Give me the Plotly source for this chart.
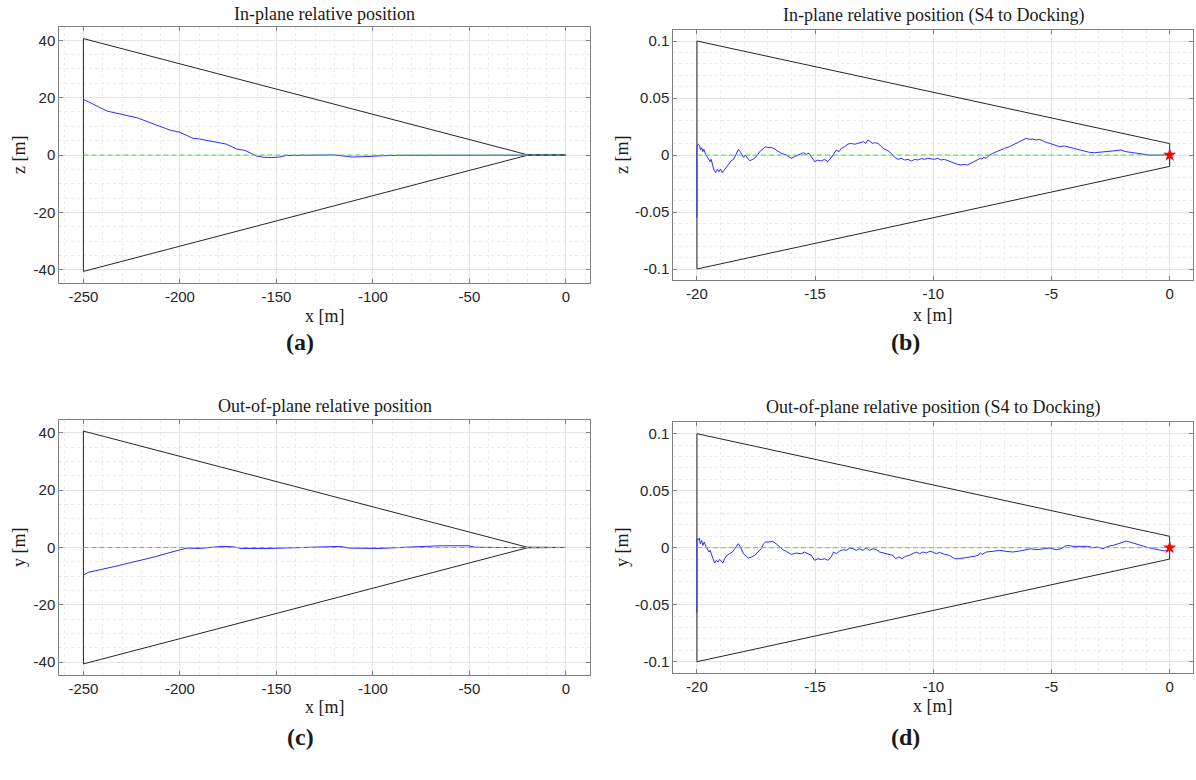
import plotly.graph_objects as go

# ---------------- data ----------------
# approach corridor (cone) vertices: x stations and half-width at each station
cone_x = [-250, -20, 0]
cone_half = [40.6, 0.1, 0.01]

# (a) in-plane trajectory, full approach
traj_a_x = [-250, -246.6, -245, -237.7, -231.5, -221.8, -219.1, -209.9, -205.2, -200, -193.2,
            -190, -181, -176, -170.6, -166.3, -160.3, -156.6, -152.4, -148.4, -144.7, -142.5,
            -130, -120.5, -114.7, -110.7, -105, -102.8, -94.9, -85, -70, -55.2, -40, -21.4, 0]
traj_a_z = [19.4, 18.2, 17.7, 15.3, 14.4, 12.9, 12.2, 10.0, 8.7, 7.9, 5.8,
            5.6, 4.3, 3.8, 2.1, 1.6, -0.35, -0.8, -0.9, -0.7, -0.15, -0.1,
            -0.05, 0.05, -0.5, -0.7, -0.6, -0.5, -0.25, -0.1, -0.15, -0.2, -0.1, -0.05, 0]

# (c) out-of-plane trajectory, full approach
traj_c_x = [-250, -247.6, -233.7, -213.9, -200, -196, -190, -184.1, -178.2, -172.2, -168.3,
            -154.4, -138.5, -122.6, -116.7, -112.7, -106.8, -96.8, -83, -65.1, -50.2, -47.2,
            -35.3, -21.4, 0]
traj_c_y = [-9.6, -8.7, -6.6, -3.4, -0.8, -0.2, -0.35, -0.1, 0.4, 0.25, -0.35,
            -0.35, 0, 0.4, 0.4, -0.2, -0.35, -0.35, 0.1, 0.6, 0.6, 0.1,
            0, 0, 0]

# (b) in-plane trajectory, S4 to docking
traj_b_x = [-20, -20, -19.94, -19.89, -19.85, -19.8, -19.75, -19.71, -19.63, -19.56, -19.49,
            -19.44, -19.4, -19.35, -19.28, -19.21, -19.14, -19.07, -19.0, -18.93, -18.86,
            -18.76, -18.65, -18.55, -18.45, -18.36, -18.29, -18.24, -18.17, -18.1, -18.03,
            -17.96, -17.87, -17.77, -17.63, -17.49, -17.35, -17.21, -17.09, -17.0, -16.86,
            -16.72, -16.57, -16.43, -16.22, -16.01, -15.87, -15.73, -15.59, -15.49, -15.37,
            -15.26, -15.16, -15.02, -14.88, -14.74, -14.6, -14.46, -14.32, -14.2, -14.1,
            -13.99, -13.89, -13.75, -13.61, -13.47, -13.33, -13.19, -13.05, -12.95, -12.86,
            -12.76, -12.66, -12.58, -12.48, -12.34, -12.2, -12.06, -11.92, -11.78, -11.64,
            -11.5, -11.36, -11.21, -11.07, -10.93, -10.79, -10.65, -10.51, -10.37, -10.23,
            -10.09, -9.95, -9.81, -9.67, -9.53, -9.39, -9.25, -9.11, -8.97, -8.83, -8.69,
            -8.55, -8.4, -8.26, -8.11, -8.01, -7.94, -7.87, -7.76, -7.62, -7.48, -7.34,
            -7.2, -6.99, -6.78, -6.57, -6.35, -6.18, -6.07, -5.93, -5.79, -5.65, -5.5,
            -5.29, -5.08, -4.87, -4.66, -4.45, -4.24, -4.03, -3.81, -3.6, -3.39, -3.18,
            -2.97, -2.76, -2.55, -2.27, -2.06, -1.85, -1.63, -1.42, -1.14, -0.86, -0.58,
            -0.29, 0]
traj_b_z = [-0.055, 0.0073, 0.0094, 0.0082, 0.0044, 0.0064, 0.0029, 0.005, 0.0006, -0.0015, -0.0038,
            -0.0058, -0.0038, -0.0079, -0.0132, -0.0155, -0.0126, -0.0146, -0.0123, -0.0155, -0.0137,
            -0.0102, -0.0073, -0.005, -0.0038, 0.0006, 0.0038, 0.005, 0.0029, 0.0, -0.002,
            0.0, -0.0029, -0.005, -0.0038, -0.0015, 0.0029, 0.005, 0.0073, 0.0064, 0.0067,
            0.0053, 0.0029, 0.0015, 0.0, -0.0029, -0.0015, 0.0, 0.0009, 0.002, 0.0006,
            0.0015, -0.0015, -0.0058, -0.0044, -0.0053, -0.0038, -0.0058, -0.0023, 0.0015, 0.0044,
            0.0029, 0.0058, 0.0073, 0.0096, 0.0102, 0.0094, 0.0102, 0.0108, 0.0117, 0.0102,
            0.0132, 0.0117, 0.0102, 0.0108, 0.0102, 0.0073, 0.005, 0.0038, 0.0015, -0.002,
            -0.0038, -0.0029, -0.0044, -0.0038, -0.0053, -0.0038, -0.0044, -0.0032, -0.0038, -0.0029,
            -0.0032, -0.0038, -0.0029, -0.0044, -0.0038, -0.005, -0.0058, -0.0073, -0.0082, -0.0088, -0.0082,
            -0.0088, -0.0073, -0.0058, -0.0044, -0.0029, -0.0038, -0.002, -0.0029, 0.0, 0.0015, 0.0029,
            0.0044, 0.0058, 0.0073, 0.0094, 0.0117, 0.0137, 0.0146, 0.0137, 0.014, 0.0132, 0.0137,
            0.0117, 0.0102, 0.0088, 0.0073, 0.0079, 0.0067, 0.0058, 0.0044, 0.0029, 0.0023, 0.002,
            0.0023, 0.0029, 0.0035, 0.0038, 0.0044, 0.0029, 0.0023, 0.0015, 0.0006, 0.0, 0.0,
            0.0003, 0.0]

# (d) out-of-plane trajectory, S4 to docking
traj_d_x = [-20, -20, -19.94, -19.9, -19.86, -19.8, -19.75, -19.69, -19.62, -19.55, -19.49,
            -19.44, -19.38, -19.32, -19.25, -19.18, -19.11, -19.04, -18.97, -18.9, -18.83,
            -18.73, -18.62, -18.5, -18.4, -18.33, -18.25, -18.18, -18.11, -18.03, -17.91,
            -17.82, -17.7, -17.56, -17.42, -17.28, -17.18, -17.1, -16.96, -16.79, -16.65,
            -16.51, -16.36, -16.22, -16.01, -15.8, -15.59, -15.45, -15.3, -15.16, -15.02,
            -14.88, -14.74, -14.6, -14.46, -14.32, -14.22, -14.1, -13.96, -13.82, -13.68,
            -13.54, -13.4, -13.26, -13.12, -12.98, -12.84, -12.7, -12.55, -12.41, -12.27,
            -12.1, -11.92, -11.71, -11.6, -11.46, -11.32, -11.18, -11.01, -10.87, -10.72,
            -10.58, -10.44, -10.3, -10.16, -10.02, -9.88, -9.74, -9.53, -9.32, -9.11,
            -8.9, -8.69, -8.48, -8.27, -8.11, -8.01, -7.93, -7.76, -7.48, -7.2,
            -6.92, -6.64, -6.35, -6.07, -5.86, -5.65, -5.36, -5.08, -4.8, -4.59,
            -4.45, -4.31, -4.09, -3.88, -3.67, -3.46, -3.25, -3.03, -2.82, -2.61,
            -2.4, -2.19, -1.98, -1.83, -1.69, -1.48, -1.27, -0.99, -0.7, -0.42,
            -0.21, 0]
traj_d_y = [-0.057, 0.0079, 0.007, 0.0085, 0.0035, 0.0064, 0.002, 0.005, 0.0012, -0.0009, -0.0038,
            -0.0023, -0.0053, -0.0096, -0.0135, -0.0111, -0.0126, -0.0102, -0.0117, -0.0135, -0.0096,
            -0.0067, -0.0053, -0.0038, -0.0009, 0.0012, 0.0035, 0.0012, -0.0023, -0.0053, -0.0076,
            -0.0091, -0.0082, -0.0067, -0.0038, -0.0009, 0.0035, 0.005, 0.005, 0.0056, 0.0035,
            0.0006, -0.0018, -0.0032, -0.0058, -0.0047, -0.0053, -0.0038, -0.0053, -0.0067, -0.0111,
            -0.0096, -0.0105, -0.0096, -0.0111, -0.0082, -0.0038, -0.0053, -0.0029, -0.0018, -0.0023,
            -0.0003, -0.0009, -0.0023, -0.0009, -0.0023, -0.0003, -0.0023, -0.0009, -0.0018, -0.0038,
            -0.0047, -0.0053, -0.0067, -0.0096, -0.0082, -0.0096, -0.0076, -0.0067, -0.0053, -0.0038,
            -0.0053, -0.0038, -0.0047, -0.0032, -0.0038, -0.0053, -0.0041, -0.0058, -0.0067, -0.0096,
            -0.0096, -0.0091, -0.0082, -0.0076, -0.0067, -0.0047, -0.0058, -0.0038, -0.0032, -0.0023,
            -0.0032, -0.0038, -0.0029, -0.0018, -0.0009, -0.0018, -0.0012, -0.0003, -0.0018, -0.0009,
            0.0012, 0.002, 0.0012, 0.0012, 0.0006, 0.0012, 0.0, 0.0006, -0.0009, 0.0012,
            0.002, 0.0035, 0.005, 0.0058, 0.005, 0.0035, 0.002, 0.0006, -0.0009, -0.0023,
            -0.0029, -0.0018]

# docking port location
dock_x = [0]
dock_y = [0]

# tick values / labels
ticks_far_x = [-250, -200, -150, -100, -50, 0]
ticks_far_x_text = ["-250", "-200", "-150", "-100", "-50", "0"]
ticks_far_y = [-40, -20, 0, 20, 40]
ticks_far_y_text = ["-40", "-20", "0", "20", "40"]
ticks_near_x = [-20, -15, -10, -5, 0]
ticks_near_x_text = ["-20", "-15", "-10", "-5", "0"]
ticks_near_y = [-0.1, -0.05, 0, 0.05, 0.1]
ticks_near_y_text = ["-0.1", "-0.05", "0", "0.05", "0.1"]

# ---------------- styling ----------------
W, H = 1196, 780
SERIF = "Liberation Serif, Times New Roman, serif"
SANS = "Liberation Sans, Arial, sans-serif"
AXIS_COL = "#808080"
BLACK = "#262626"
BLUE = "rgb(45,45,255)"
GREEN = "#4ed84e"


def px_x(v):
    return v / W


def px_y(v):
    return 1 - v / H


def cone_polygon(x_start):
    """Closed outline of the approach corridor, starting at x_start."""
    pts = [(x, h) for x, h in zip(cone_x, cone_half) if x >= x_start]
    xs = [p[0] for p in pts] + [p[0] for p in reversed(pts)] + [pts[0][0]]
    ys = [p[1] for p in pts] + [-p[1] for p in reversed(pts)] + [pts[0][1]]
    return xs, ys


fig = go.Figure()

panels = [
    # (x axis id, y axis id, cone start, traj x, traj y, green x, star?)
    ("x", "y", -250, traj_a_x, traj_a_z, [-250, 0], False),
    ("x2", "y2", -20, traj_b_x, traj_b_z, [-20, 0], True),
    ("x3", "y3", -250, traj_c_x, traj_c_y, [-250, 0], False),
    ("x4", "y4", -20, traj_d_x, traj_d_y, [-20, 0], True),
]

for xa, ya, xs0, tx, ty, gx, star in panels:
    cx, cy = cone_polygon(xs0)
    fig.add_trace(go.Scatter(x=cx, y=cy, mode="lines", xaxis=xa, yaxis=ya,
                             line=dict(color=BLACK, width=1), showlegend=False, hoverinfo="skip"))
    fig.add_trace(go.Scatter(x=tx, y=ty, mode="lines", xaxis=xa, yaxis=ya,
                             line=dict(color=BLUE, width=1), showlegend=False))
    fig.add_trace(go.Scatter(x=gx, y=[0, 0], mode="lines", xaxis=xa, yaxis=ya,
                             line=dict(color=GREEN, width=1, dash="5px,3px"),
                             showlegend=False, hoverinfo="skip"))
    if star:
        fig.add_trace(go.Scatter(x=dock_x, y=dock_y, mode="markers", xaxis=xa, yaxis=ya,
                                 marker=dict(symbol="star", size=10, color="red",
                                             line=dict(width=0)),
                                 showlegend=False))


def axis(domain, rng, tvals, ttext, minor_dtick, anchor):
    return dict(
        domain=domain, range=rng, anchor=anchor,
        tickmode="array", tickvals=tvals, ticktext=ttext,
        showline=True, mirror="ticks", linecolor=AXIS_COL, linewidth=1,
        ticks="inside", ticklen=4, tickcolor=AXIS_COL, tickwidth=1,
        showgrid=True, gridcolor="#e3e3e3", gridwidth=1,
        zeroline=False,
        tickfont=dict(family=SANS, size=15, color="#262626"),
        minor=dict(tickmode="linear", tick0=0, dtick=minor_dtick, showgrid=True,
                   gridcolor="#ececec", griddash="dot", gridwidth=1, ticks=""),
    )


dom_left = [px_x(59.3), px_x(590)]
dom_right = [px_x(673.3), px_x(1193.3)]
dom_a = [px_y(282.6), px_y(27.4)]
dom_b = [px_y(280.4), px_y(29.6)]
dom_c = [px_y(675.1), px_y(419.9)]
dom_d = [px_y(673.1), px_y(422.3)]

fig.update_layout(
    width=W, height=H,
    margin=dict(l=0, r=0, t=0, b=0),
    paper_bgcolor="white", plot_bgcolor="white",
    xaxis=axis(dom_left, [-262.5, 12.5], ticks_far_x, ticks_far_x_text, 10, "y"),
    yaxis=axis(dom_a, [-44.5, 44.5], ticks_far_y, ticks_far_y_text, 5, "x"),
    xaxis2=axis(dom_right, [-21, 1], ticks_near_x, ticks_near_x_text, 1, "y2"),
    yaxis2=axis(dom_b, [-0.11, 0.11], ticks_near_y, ticks_near_y_text, 0.01, "x2"),
    xaxis3=axis(dom_left, [-262.5, 12.5], ticks_far_x, ticks_far_x_text, 10, "y3"),
    yaxis3=axis(dom_c, [-44.5, 44.5], ticks_far_y, ticks_far_y_text, 5, "x3"),
    xaxis4=axis(dom_right, [-21, 1], ticks_near_x, ticks_near_x_text, 1, "y4"),
    yaxis4=axis(dom_d, [-0.11, 0.11], ticks_near_y, ticks_near_y_text, 0.01, "x4"),
)

annotations = []


def label(text, x, y, size, angle=0, bold=False):
    annotations.append(dict(
        text=f"<b>{text}</b>" if bold else text,
        x=px_x(x), y=px_y(y), xref="paper", yref="paper",
        xanchor="center", yanchor="middle", showarrow=False, textangle=angle,
        font=dict(family=SERIF, size=size, color="#1a1a1a"),
    ))


# panel titles
label("In-plane relative position", 324.7, 14, 18)
label("In-plane relative position (S4 to Docking)", 933.3, 15, 18)
label("Out-of-plane relative position", 324.7, 406, 18)
label("Out-of-plane relative position (S4 to Docking)", 933.3, 407, 18)

# axis titles
for cx, cy in [(324.7, 316), (933.3, 315), (324.7, 707), (933.3, 706)]:
    label("x [m]", cx, cy, 18)
label("z [m]", 19, 155, 18, angle=-90)
label("z [m]", 622, 155, 18, angle=-90)
label("y [m]", 19, 547, 18, angle=-90)
label("y [m]", 622, 547, 18, angle=-90)

# subfigure captions
label("(a)", 300, 342, 24, bold=True)
label("(b)", 905, 342, 24, bold=True)
label("(c)", 300, 737, 24, bold=True)
label("(d)", 905, 737, 24, bold=True)

fig.update_layout(annotations=annotations)

fig.write_html("out.html")
